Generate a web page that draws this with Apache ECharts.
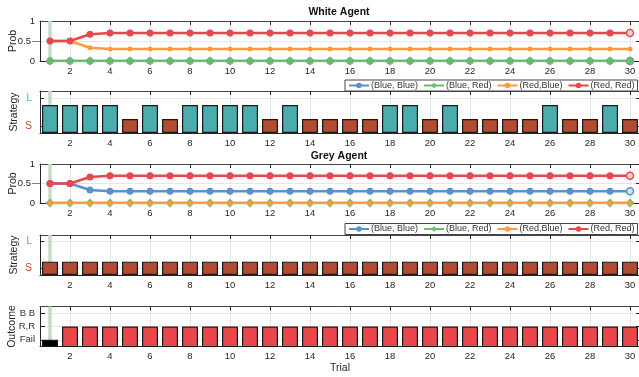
<!DOCTYPE html>
<html>
<head>
<meta charset="utf-8">
<script src="https://cdn.jsdelivr.net/npm/echarts@6/dist/echarts.min.js"></script>
<style>
  html, body { margin: 0; padding: 0; background: #fff; }
  #chart { width: 639px; height: 377px; }
</style>
</head>
<body>
<div id="chart"></div>
<script>
// Trials and tick positions
const trials = [1, 2, 3, 4, 5, 6, 7, 8, 9, 10, 11, 12, 13, 14, 15, 16, 17, 18, 19, 20, 21, 22, 23, 24, 25, 26, 27, 28, 29, 30];
const xTicks = [2, 4, 6, 8, 10, 12, 14, 16, 18, 20, 22, 24, 26, 28, 30];
const currentTrial = 1;

// White agent: belief over joint choices
const whiteBB = [0, 0, 0, 0, 0, 0, 0, 0, 0, 0, 0, 0, 0, 0, 0, 0, 0, 0, 0, 0, 0, 0, 0, 0, 0, 0, 0, 0, 0, 0];
const whiteBR = [0, 0, 0, 0, 0, 0, 0, 0, 0, 0, 0, 0, 0, 0, 0, 0, 0, 0, 0, 0, 0, 0, 0, 0, 0, 0, 0, 0, 0, 0];
const whiteRB = [0.5, 0.5, 0.333, 0.3, 0.3, 0.3, 0.3, 0.3, 0.3, 0.3, 0.3, 0.3, 0.3, 0.3, 0.3, 0.3, 0.3, 0.3, 0.3, 0.3, 0.3, 0.3, 0.3, 0.3, 0.3, 0.3, 0.3, 0.3, 0.3, 0.3];
const whiteRR = [0.5, 0.5, 0.667, 0.7, 0.7, 0.7, 0.7, 0.7, 0.7, 0.7, 0.7, 0.7, 0.7, 0.7, 0.7, 0.7, 0.7, 0.7, 0.7, 0.7, 0.7, 0.7, 0.7, 0.7, 0.7, 0.7, 0.7, 0.7, 0.7, 0.7];

// Grey agent: belief over joint choices
const greyBB = [0.5, 0.5, 0.333, 0.3, 0.3, 0.3, 0.3, 0.3, 0.3, 0.3, 0.3, 0.3, 0.3, 0.3, 0.3, 0.3, 0.3, 0.3, 0.3, 0.3, 0.3, 0.3, 0.3, 0.3, 0.3, 0.3, 0.3, 0.3, 0.3, 0.3];
const greyBR = [0, 0, 0, 0, 0, 0, 0, 0, 0, 0, 0, 0, 0, 0, 0, 0, 0, 0, 0, 0, 0, 0, 0, 0, 0, 0, 0, 0, 0, 0];
const greyRB = [0, 0, 0, 0, 0, 0, 0, 0, 0, 0, 0, 0, 0, 0, 0, 0, 0, 0, 0, 0, 0, 0, 0, 0, 0, 0, 0, 0, 0, 0];
const greyRR = [0.5, 0.5, 0.667, 0.7, 0.7, 0.7, 0.7, 0.7, 0.7, 0.7, 0.7, 0.7, 0.7, 0.7, 0.7, 0.7, 0.7, 0.7, 0.7, 0.7, 0.7, 0.7, 0.7, 0.7, 0.7, 0.7, 0.7, 0.7, 0.7, 0.7];

// Strategies chosen each trial (L = leader, S = follower)
const whiteStrategy = ['L', 'L', 'L', 'L', 'S', 'L', 'S', 'L', 'L', 'L', 'L', 'S', 'L', 'S', 'S', 'S', 'S', 'L', 'L', 'S', 'L', 'S', 'S', 'S', 'S', 'L', 'S', 'S', 'L', 'S'];
const greyStrategy = ['S', 'S', 'S', 'S', 'S', 'S', 'S', 'S', 'S', 'S', 'S', 'S', 'S', 'S', 'S', 'S', 'S', 'S', 'S', 'S', 'S', 'S', 'S', 'S', 'S', 'S', 'S', 'S', 'S', 'S'];

// Joint outcome each trial
const outcomes = ['Fail', 'R,R', 'R,R', 'R,R', 'R,R', 'R,R', 'R,R', 'R,R', 'R,R', 'R,R', 'R,R', 'R,R', 'R,R', 'R,R', 'R,R', 'R,R', 'R,R', 'R,R', 'R,R', 'R,R', 'R,R', 'R,R', 'R,R', 'R,R', 'R,R', 'R,R', 'R,R', 'R,R', 'R,R', 'R,R'];

// Axis codes
const strategyCode = { S: 1, L: 2 };
const strategyTicks = [0.5, 2.5];
const strategyTickText = { 0.5: 'S', 2.5: 'L' };
const outcomeCode = { 'Fail': 1, 'R,R': 2, 'B B': 3 };
const outcomeTicks = [1, 2, 3];
const outcomeTickText = { 1: 'Fail', 2: 'R,R', 3: 'B B' };
const probTicks = [0, 0.5, 1];

const seriesNames = ['(Blue, Blue)', '(Blue, Red)', '(Red,Blue)', '(Red, Red)'];

const FONT = 'Liberation Sans, Arial, Helvetica, sans-serif';
const AXIS = '#262626';
const TEXT = '#262626';
const GRID = '#e6e6e6';
const BAND = '#c9dcc9';

const C = {
  blue: '#5a91c8', green: '#6cba6c', orange: '#ff9b38', red: '#e8474b',
  teal: '#4aadad', brown: '#b34b32', fail: '#000000', rr: '#e8474b'
};
const stratColor = { L: C.teal, S: C.brown };
const outcomeColor = { 'Fail': C.fail, 'R,R': C.rr, 'B B': C.blue };

const panels = [
  { top: 21, height: 40 },    // white belief
  { top: 91, height: 42 },    // white strategy
  { top: 164, height: 39 },   // grey belief
  { top: 235, height: 40 },   // grey strategy
  { top: 306.5, height: 40 }  // outcome
];

const grid = panels.map(p => ({
  left: 40, width: 600, top: p.top, height: p.height,
  containLabel: false, outerBoundsMode: 'none'
}));

const nameStyle = { fontSize: 10.5, color: TEXT, fontFamily: FONT };

const xAxis = [];
const yAxis = [];
panels.forEach((p, gi) => {
  xAxis.push({
    type: 'value', gridIndex: gi, min: 0.5, max: 30.5, position: 'bottom',
    axisLine: { show: true, onZero: false, lineStyle: { color: AXIS, width: 1 } },
    axisTick: { show: false, customValues: xTicks },
    axisLabel: { customValues: xTicks, fontSize: 9.5, color: TEXT, margin: 5, fontFamily: FONT },
    splitLine: { show: true, lineStyle: { color: GRID, width: 1 } },
    name: gi === 4 ? 'Trial' : '', nameLocation: 'middle', nameGap: 16, nameMoveOverlap: false,
    nameTextStyle: nameStyle
  });
  xAxis.push({
    type: 'value', gridIndex: gi, min: 0.5, max: 30.5, position: 'top',
    axisLine: { show: true, onZero: false, lineStyle: { color: '#444', width: 1 } },
    axisTick: { show: true, inside: true, length: 4, customValues: xTicks, lineStyle: { color: AXIS, width: 1 } },
    axisLabel: { show: false },
    splitLine: { show: false }
  });
});

function probLeft(gi) {
  return {
    type: 'value', gridIndex: gi, min: 0, max: 1, position: 'left',
    name: 'Prob', nameLocation: 'middle', nameGap: 21, nameMoveOverlap: false,
    nameTextStyle: nameStyle,
    axisLine: { show: true, onZero: false, lineStyle: { color: AXIS, width: 1 } },
    axisTick: { show: true, inside: false, length: 8, customValues: [0.5], lineStyle: { color: '#808080', width: 1 } },
    axisLabel: {
      customValues: probTicks, fontSize: 9.5, color: TEXT, margin: 5, fontFamily: FONT,
      formatter: v => (v === 0.5 ? '{p|0.5}' : String(v)),
      rich: { p: { fontSize: 9.5, color: TEXT, fontFamily: FONT, padding: [0, 4, 0, 0] } }
    },
    splitLine: { show: true, lineStyle: { color: GRID, width: 1 } }
  };
}
function rightAxis(gi, min, max, ticks) {
  return {
    type: 'value', gridIndex: gi, min: min, max: max, position: 'right',
    axisLine: { show: true, onZero: false, lineStyle: { color: AXIS, width: 1 } },
    axisTick: { show: true, inside: true, length: 4, customValues: ticks, lineStyle: { color: AXIS, width: 1 } },
    axisLabel: { show: false },
    splitLine: { show: false }
  };
}
function strategyLeft(gi) {
  return {
    type: 'value', gridIndex: gi, min: 0, max: 3, position: 'left',
    name: 'Strategy', nameLocation: 'middle', nameGap: 20, nameMoveOverlap: false,
    nameTextStyle: nameStyle,
    axisLine: { show: true, onZero: false, lineStyle: { color: AXIS, width: 1 } },
    axisTick: { show: true, inside: true, length: 4, customValues: strategyTicks, lineStyle: { color: AXIS, width: 1 } },
    axisLabel: {
      customValues: strategyTicks, margin: 8, fontFamily: FONT,
      formatter: v => (strategyTickText[v] === 'L' ? '{l|L}' : '{s|S}'),
      rich: {
        l: { fontSize: 10, color: C.teal, fontFamily: FONT },
        s: { fontSize: 10, color: '#c0462f', fontFamily: FONT }
      }
    },
    splitLine: { show: true, lineStyle: { color: GRID, width: 1 } }
  };
}
function outcomeLeft(gi) {
  return {
    type: 'value', gridIndex: gi, min: 0.5, max: 3.5, position: 'left',
    name: 'Outcome', nameLocation: 'middle', nameGap: 22, nameMoveOverlap: false,
    nameTextStyle: nameStyle,
    axisLine: { show: true, onZero: false, lineStyle: { color: AXIS, width: 1 } },
    axisTick: { show: true, inside: true, length: 5, customValues: outcomeTicks, lineStyle: { color: AXIS, width: 1 } },
    axisLabel: {
      customValues: outcomeTicks, fontSize: 9.5, color: '#333', margin: 5, fontFamily: FONT,
      formatter: v => outcomeTickText[v]
    },
    splitLine: { show: true, lineStyle: { color: GRID, width: 1 } }
  };
}

yAxis.push(probLeft(0), rightAxis(0, 0, 1, probTicks));
yAxis.push(strategyLeft(1), rightAxis(1, 0, 3, strategyTicks));
yAxis.push(probLeft(2), rightAxis(2, 0, 1, probTicks));
yAxis.push(strategyLeft(3), rightAxis(3, 0, 3, strategyTicks));
yAxis.push(outcomeLeft(4), rightAxis(4, 0.5, 3.5, outcomeTicks));

// vertical marker for the current trial
function bandLine() {
  return {
    silent: true, symbol: ['none', 'none'], z: 1, animation: false,
    label: { show: false },
    lineStyle: { color: BAND, width: 3.6, type: 'solid', opacity: 1 },
    data: [{ xAxis: currentTrial }]
  };
}

const lineStyles = [
  { color: C.blue, symbol: 'circle', size: 7, hollowLast: true },
  { color: C.green, symbol: 'diamond', size: 9, hollowLast: false },
  { color: C.orange, symbol: 'circle', size: 5, hollowLast: false },
  { color: C.red, symbol: 'circle', size: 7, hollowLast: true }
];
const tint = { [C.blue]: '#d3e2f1', [C.red]: '#f8d0d1' };

function beliefSeries(gi, arrays) {
  return arrays.map((vals, k) => {
    const st = lineStyles[k];
    const data = trials.map((t, i) => {
      const item = { value: [t, vals[i]] };
      if (st.hollowLast && i === trials.length - 1) {
        item.itemStyle = { color: tint[st.color], borderColor: st.color, borderWidth: 1.5 };
      }
      return item;
    });
    const s = {
      name: seriesNames[k], type: 'line', xAxisIndex: gi * 2, yAxisIndex: gi * 2,
      data: data, symbol: st.symbol, symbolSize: st.size, showSymbol: true,
      lineStyle: { color: st.color, width: 2.6 },
      itemStyle: { color: st.color },
      z: 2 + k, animation: false
    };
    if (k === 0) s.markLine = bandLine();
    return s;
  });
}

function strategySeries(gi, seq) {
  return {
    type: 'bar', xAxisIndex: gi * 2, yAxisIndex: gi * 2, barWidth: 16, z: 2,
    clip: true, animation: false,
    itemStyle: { borderColor: '#1a1a1a', borderWidth: 1.2 },
    data: trials.map((t, i) => ({ value: [t, strategyCode[seq[i]]], itemStyle: { color: stratColor[seq[i]] } })),
    markLine: bandLine()
  };
}

function outcomeSeries(gi) {
  return {
    type: 'bar', xAxisIndex: gi * 2, yAxisIndex: gi * 2, barWidth: 16, z: 2,
    clip: true, animation: false,
    itemStyle: { borderColor: '#1a1a1a', borderWidth: 1.2 },
    data: trials.map((t, i) => ({ value: [t, outcomeCode[outcomes[i]]], itemStyle: { color: outcomeColor[outcomes[i]] } })),
    markLine: bandLine()
  };
}

const series = [].concat(
  beliefSeries(0, [whiteBB, whiteBR, whiteRB, whiteRR]),
  [strategySeries(1, whiteStrategy)],
  beliefSeries(2, [greyBB, greyBR, greyRB, greyRR]),
  [strategySeries(3, greyStrategy)],
  [outcomeSeries(4)]
);

function legendAt(top) {
  return {
    data: seriesNames, left: 345, top: top, width: 340, orient: 'horizontal',
    itemWidth: 20, itemHeight: 7, itemGap: 5, padding: [1, 3, 1, 3],
    backgroundColor: '#ffffff', borderColor: '#444', borderWidth: 1, borderRadius: 0,
    selectedMode: false, z: 10,
    textStyle: { fontSize: 9, color: '#333', fontFamily: FONT, padding: [0, 0, 0, -3] }
  };
}

const option = {
  animation: false,
  backgroundColor: '#ffffff',
  title: [
    { text: 'White Agent', left: 339, top: 7, textAlign: 'center', padding: 0,
      textStyle: { fontSize: 10.5, fontWeight: 'bold', color: '#111', fontFamily: FONT } },
    { text: 'Grey Agent', left: 339, top: 151, textAlign: 'center', padding: 0,
      textStyle: { fontSize: 10.5, fontWeight: 'bold', color: '#111', fontFamily: FONT } }
  ],
  legend: [legendAt(80), legendAt(223.5)],
  grid: grid,
  xAxis: xAxis,
  yAxis: yAxis,
  series: series
};

const chart = echarts.init(document.getElementById('chart'), null, { renderer: 'canvas' });
chart.setOption(option);
</script>
</body>
</html>
